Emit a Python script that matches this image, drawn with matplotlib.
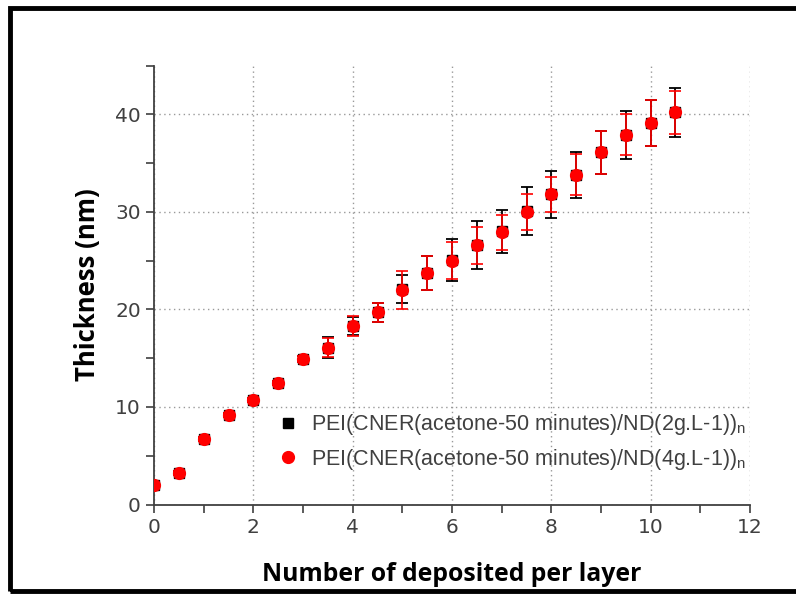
import numpy as np
import matplotlib
matplotlib.use('Agg')
import matplotlib.pyplot as plt
from matplotlib.patches import Rectangle

# data
layers = [0, 0.5, 1, 1.5, 2, 2.5, 3, 3.5, 4, 4.5, 5, 5.5, 6, 6.5, 7, 7.5,
          8, 8.5, 9, 9.5, 10, 10.5]

thick_2g = [2.0, 3.2, 6.7, 9.2, 10.75, 12.5, 14.9, 16.1, 18.3, 19.7, 22.1, 23.7,
            25.1, 26.6, 28.0, 30.1, 31.8, 33.8, 36.1, 37.9, 39.1, 40.2]
err_2g = [0.1, 0.2, 0.2, 0.2, 0.2, 0.2, 0.3, 1.1, 0.9, 1.0, 1.4, 1.75,
          2.15, 2.5, 2.2, 2.5, 2.45, 2.35, 2.25, 2.5, 2.35, 2.5]

thick_4g = [2.0, 3.2, 6.7, 9.2, 10.75, 12.5, 14.9, 16.1, 18.3, 19.7, 22.0, 23.7,
            25.0, 26.6, 27.9, 30.0, 31.8, 33.8, 36.1, 37.9, 39.1, 40.2]
err_4g = [0.1, 0.2, 0.2, 0.2, 0.2, 0.2, 0.3, 1.0, 1.0, 1.0, 1.95, 1.75,
          1.9, 1.9, 1.8, 1.85, 1.8, 2.1, 2.2, 2.1, 2.35, 2.2]

label_2g = r'PEI(CNER(acetone-50 minutes)/ND(2g.L-1))$_\mathregular{n}$'
label_4g = r'PEI(CNER(acetone-50 minutes)/ND(4g.L-1))$_\mathregular{n}$'

grey = '#404040'

fig = plt.figure(figsize=(7.96, 5.95), dpi=100)
ax = fig.add_axes([0.1935, 0.1521, 0.7487, 0.7375])

ax.errorbar(layers, thick_2g, yerr=err_2g, fmt='s', color='black', ms=7,
            capsize=4, elinewidth=1.3, capthick=1.3, label=label_2g, zorder=3)
ax.errorbar(layers, thick_4g, yerr=err_4g, fmt='o', color='red', ms=8.5,
            capsize=4, elinewidth=1.2, capthick=1.2, label=label_4g, zorder=4)

ax.set_xlim(0, 12)
ax.set_ylim(0, 45)
ax.set_xticks([0, 2, 4, 6, 8, 10, 12])
ax.set_xticks(np.arange(1, 12, 2), minor=True)
ax.set_yticks([0, 10, 20, 30, 40])
ax.set_yticks([5, 15, 25, 35, 45], minor=True)

for s in ['top', 'right']:
    ax.spines[s].set_visible(False)
for s in ['left', 'bottom']:
    ax.spines[s].set_color(grey)
    ax.spines[s].set_linewidth(1.3)

ax.tick_params(which='both', direction='out', length=6, width=1.2, color=grey)
ax.tick_params(which='major', labelsize=14.5, labelcolor=grey)

ax.grid(True, which='major', linestyle=(0, (1, 2.5)), color='#999999', linewidth=1.0)

ax.set_xlabel('Number of deposited per layer', fontsize=17.8, fontweight='bold',
              family='Open Sans', labelpad=18)
ax.set_ylabel('Thickness (nm)', fontsize=18.5, fontweight='bold',
              family='Open Sans', labelpad=10)

handles, labels = ax.get_legend_handles_labels()
handles = [h[0] for h in handles]
leg = ax.legend(handles, labels, loc='lower left', bbox_to_anchor=(0.17, 0.03),
                frameon=False, handletextpad=0.5, labelspacing=0.45,
                handlelength=1.2, prop={'family': 'Liberation Sans', 'size': 15.5})
for t in leg.get_texts():
    t.set_color(grey)

# frame round the whole picture, open on the right
fig.patches.append(Rectangle((0.013, 0.006), 1.2, 0.98, transform=fig.transFigure,
                             fill=False, edgecolor='black', linewidth=3.5))

fig.savefig('out.png', dpi=100)
